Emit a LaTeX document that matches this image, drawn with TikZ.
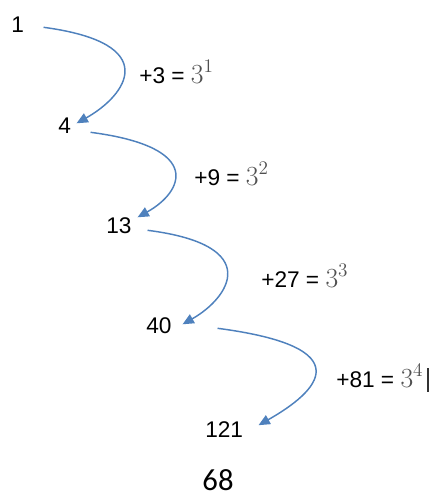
\documentclass[tikz,border=0pt]{standalone}
\usepackage{fontspec}
\setmainfont{Liberation Sans}
\newfontfamily\pagefont{Carlito}
\usetikzlibrary{arrows.meta}
\definecolor{stepblue}{RGB}{79,129,189}
\definecolor{powgray}{RGB}{80,80,80}
\newcommand{\powr}[1]{\textcolor{powgray}{\fontsize{20.74}{22}\selectfont$3^{#1}$}}

\begin{document}
\begin{tikzpicture}[x=0.75pt, y=-0.75pt, >={Triangle[length=8.5pt, width=7.5pt]},
    num/.style={inner sep=0pt, anchor=base west, font=\fontsize{17}{19}\selectfont},
    jump/.style={->, draw=stepblue, line width=1.1pt}]
    \useasboundingbox (0, 0) rectangle (431, 496);

    % the terms
    \node[num] (n1) at (11, 32) {1};
    \node[num] (n4) at (58, 133) {4};
    \node[num] (n13) at (106, 233) {13};
    \node[num] (n40) at (146, 333) {40};
    \node[num] (n121) at (205, 437) {121};

    % the steps
    \node[num] (p1) at (139, 83) {+3 = \powr{1}};
    \node[num] (p2) at (194, 185) {+9 = \powr{2}};
    \node[num] (p3) at (261, 287) {+27 = \powr{3}};
    \node[num] (p4) at (336, 387) {+81 = \powr{4}};

    \draw[jump] ([shift={(19.4,3.1)}]n1.east) .. controls +(120,16) and +(50,-28) .. ([shift={(5.4,-1.9)}]n4.east);
    \draw[jump] ([shift={(19.4,7.1)}]n4.east) .. controls +(115,15) and +(45,-25) .. ([shift={(5.8,-7.9)}]n13.east);
    \draw[jump] ([shift={(15.8,5.1)}]n13.east) .. controls +(118,15) and +(46,-26) .. ([shift={(10.8,-0.9)}]n40.east);
    \draw[jump] ([shift={(45.8,3.1)}]n40.east) .. controls +(145,19) and +(60,-34) .. ([shift={(15.2,-3.9)}]n121.east);

    \draw[line width=0.8pt, black!80] (428, 368) -- (428, 392);

    \node[anchor=base, inner sep=0pt, font=\pagefont\fontsize{23}{26}\selectfont] (page) at (218, 490) {68};
\end{tikzpicture}
\end{document}
